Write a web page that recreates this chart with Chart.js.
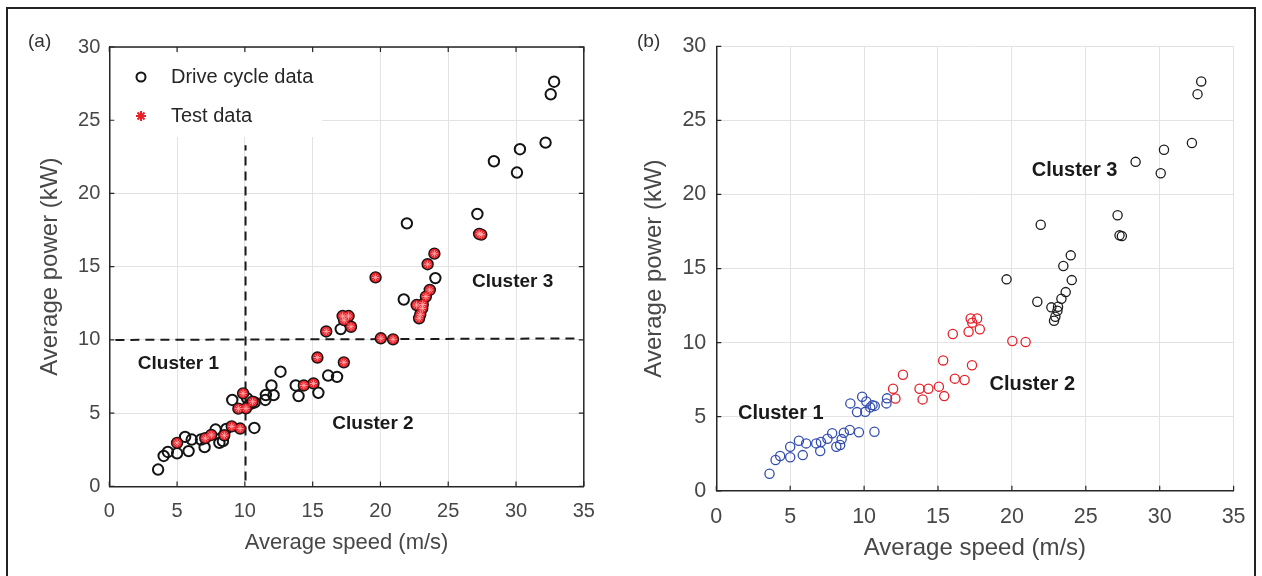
<!DOCTYPE html>
<html>
<head>
<meta charset="utf-8">
<script src="https://cdn.jsdelivr.net/npm/chart.js@4.4.1/dist/chart.umd.min.js"></script>
<style>
  html, body { margin: 0; padding: 0; background: #fff; }
  #wrap { position: relative; width: 1262px; height: 576px; overflow: hidden; }
  #frame { position: absolute; left: 6px; top: 7px; width: 1250px; height: 600px;
           border: 2px solid #222; box-sizing: border-box; }
  canvas { position: absolute; top: 0; }
  #chartA { left: 0; }
  #chartB { left: 620px; }
</style>
</head>
<body>
<div id="wrap">
  <div id="frame"></div>
  <canvas id="chartA" width="610" height="576"></canvas>
  <canvas id="chartB" width="642" height="576"></canvas>
</div>
<script>
// average speed (m/s) / average power (kW) per drive-cycle segment, grouped by cluster
const c1Speed = [3.60, 4.01, 4.32, 5.00, 5.00, 5.59, 5.85, 6.08, 6.76, 7.03, 7.08, 7.52, 7.84, 8.12, 8.38,
                 8.48, 8.63, 9.03, 9.65, 10.70, 9.07, 9.52, 9.87, 10.15, 10.08, 10.42, 10.57, 10.72, 11.55, 11.51];
const c1Power = [1.15, 2.08, 2.35, 2.26, 2.97, 3.38, 2.41, 3.20, 3.20, 2.68, 3.29, 3.51, 3.88, 2.97, 3.09,
                 3.49, 3.92, 4.10, 3.95, 3.99, 5.90, 5.31, 6.35, 6.03, 5.33, 5.63, 5.78, 5.73, 6.24, 5.90];

const c2Speed = [11.96, 12.12, 12.63, 13.75, 13.96, 14.35, 15.06, 15.35, 15.42, 16.00,
                 16.14, 16.80, 17.07, 17.21, 17.32, 17.65, 17.83, 17.30, 20.03, 20.93];
const c2Power = [6.89, 6.23, 7.83, 6.89, 6.17, 6.89, 7.03, 8.80, 6.39, 10.58,
                 7.57, 7.48, 10.74, 11.63, 11.35, 11.63, 10.90, 8.47, 10.11, 10.04];

const c3Speed = [21.95, 19.64, 23.98, 23.48, 24.05, 23.64, 23.35, 21.72, 22.67, 23.12, 23.08, 22.94, 22.85,
                 27.15, 27.28, 27.44, 28.37, 30.29, 30.07, 32.18, 32.56, 32.81];
const c3Power = [17.96, 14.27, 15.89, 15.17, 14.22, 13.41, 12.96, 12.76, 12.38, 12.42, 12.15, 11.75, 11.48,
                 18.60, 17.24, 17.19, 22.20, 23.02, 21.43, 23.47, 26.77, 27.63];

// segments held out as test data
const testSpeed = [5.00, 7.08, 7.52, 8.48, 9.03, 9.65, 9.87, 9.52, 10.08, 10.57, 14.35, 15.06, 15.35, 17.30,
                   16.00, 17.21, 17.65, 17.32, 17.83, 20.03, 20.93, 19.64, 23.48, 23.98, 23.64, 23.35, 23.12,
                   22.67, 23.08, 22.94, 22.85, 27.28, 27.44];
const testPower = [2.97, 3.29, 3.51, 3.49, 4.10, 3.95, 6.35, 5.31, 5.33, 5.78, 6.89, 7.03, 8.80, 8.47,
                   10.58, 11.63, 11.63, 11.35, 10.90, 10.11, 10.04, 14.27, 15.17, 15.89, 13.41, 12.96, 12.42,
                   12.38, 12.15, 11.75, 11.48, 17.24, 17.19];

// speed / power split lines of panel (a)
const splitVSpeed = [10.05, 10.05];
const splitVPower = [0.4, 23.3];
const splitHSpeed = [0.45, 34.6];
const splitHPower = [10.0, 10.1];

const speedTicks = [0, 5, 10, 15, 20, 25, 30, 35];
const powerTicks = [0, 5, 10, 15, 20, 25, 30];

const FONT = '"Liberation Sans", Arial, Helvetica, sans-serif';
const INK = '#262626';
const LABEL = '#474747';
const GRID = '#e3e3e3';
const RED = 'rgb(232,32,40)';
const BLUE = 'rgb(52,78,176)';

function pts(xs, ys) { return xs.map((x, i) => ({ x: x, y: ys[i] })); }

const allSpeed = c1Speed.concat(c2Speed, c3Speed);
const allPower = c1Power.concat(c2Power, c3Power);

function axes(o) {
  return {
    x: {
      type: 'linear', min: 0, max: 35,
      afterBuildTicks: s => { s.ticks = speedTicks.map(v => ({ value: v })); },
      ticks: { color: LABEL, font: { family: FONT, size: o.tick }, padding: o.xPad, maxRotation: 0 },
      grid: { color: GRID, lineWidth: 1, drawTicks: false },
      border: { color: INK, width: 1.5 },
      title: { display: true, text: 'Average speed (m/s)', color: LABEL,
               font: { family: FONT, size: o.xTitle }, padding: { top: 0, bottom: o.xTitlePad } },
      afterFit: s => { s.height = o.xHeight; }
    },
    y: {
      type: 'linear', min: 0, max: 30,
      afterBuildTicks: s => { s.ticks = powerTicks.map(v => ({ value: v })); },
      ticks: { color: LABEL, font: { family: FONT, size: o.tick }, padding: o.yPad },
      grid: { color: GRID, lineWidth: 1, drawTicks: false },
      border: { color: INK, width: 1.5 },
      title: { display: true, text: 'Average power (kW)', color: LABEL,
               font: { family: FONT, size: o.yTitle }, padding: { top: o.yTitlePad, bottom: 0 } },
      afterFit: s => { s.width = o.yWidth; }
    }
  };
}

// inward ticks, optional box, cluster captions, panel letter and legend
const decor = {
  id: 'decor',
  beforeDatasetsDraw(chart, args, opts) {
    const ctx = chart.ctx;
    if (opts.legend) {
      const L = opts.legend;
      ctx.save();
      ctx.fillStyle = '#fff';
      ctx.fillRect(L.x, L.y, L.w, L.h);
      ctx.restore();
    }
  },
  afterDraw(chart, args, opts) {
    const ctx = chart.ctx;
    const a = chart.chartArea;
    const xs = chart.scales.x, ys = chart.scales.y;
    ctx.save();
    ctx.strokeStyle = INK;
    ctx.lineWidth = 1.5;
    if (opts.box) {
      ctx.beginPath();
      ctx.moveTo(a.left, a.top); ctx.lineTo(a.right, a.top); ctx.lineTo(a.right, a.bottom);
      ctx.stroke();
    }
    ctx.lineWidth = 1.2;
    ctx.beginPath();
    speedTicks.forEach(v => {
      const px = xs.getPixelForValue(v);
      ctx.moveTo(px, a.bottom); ctx.lineTo(px, a.bottom - 5);
      if (opts.box) { ctx.moveTo(px, a.top); ctx.lineTo(px, a.top + 5); }
    });
    powerTicks.forEach(v => {
      const py = ys.getPixelForValue(v);
      ctx.moveTo(a.left, py); ctx.lineTo(a.left + 5, py);
      if (opts.box) { ctx.moveTo(a.right, py); ctx.lineTo(a.right - 5, py); }
    });
    ctx.stroke();

    ctx.fillStyle = '#1a1a1a';
    ctx.font = 'bold ' + opts.capSize + 'px ' + FONT;
    ctx.textBaseline = 'middle';
    ctx.textAlign = 'left';
    opts.captions.forEach(c => {
      ctx.fillText(c.text, xs.getPixelForValue(c.x), ys.getPixelForValue(c.y));
    });

    ctx.fillStyle = '#333';
    ctx.font = '19px ' + FONT;
    ctx.fillText(opts.panel.text, opts.panel.x, opts.panel.y);

    if (opts.legend) {
      const L = opts.legend;
      ctx.font = '20px ' + FONT;
      L.items.forEach((it, i) => {
        const y = L.y + L.first + i * L.gap;
        // drawPoint uses the context's current stroke and fill
        ctx.strokeStyle = it.color;
        ctx.fillStyle = 'rgba(0,0,0,0)';
        ctx.lineWidth = it.bw;
        Chart.helpers.drawPoint(ctx, {
          pointStyle: it.style, radius: it.r, borderWidth: it.bw, rotation: 0
        }, L.x + L.mark, y);
        ctx.fillStyle = INK;
        ctx.fillText(it.text, L.x + L.text, y);
      });
    }
    ctx.restore();
  }
};

new Chart(document.getElementById('chartA'), {
  type: 'scatter',
  data: {
    datasets: [
      { label: 'Test data', data: pts(testSpeed, testPower), pointStyle: 'star', pointRadius: 3.6,
        borderColor: 'rgba(255,175,175,0.85)', borderWidth: 1, backgroundColor: RED, order: 0 },
      { label: 'Test data fill', data: pts(testSpeed, testPower), pointStyle: 'circle', pointRadius: 4.8,
        borderWidth: 0, backgroundColor: RED, order: 1 },
      { label: 'Drive cycle data', data: pts(allSpeed, allPower), pointStyle: 'circle', pointRadius: 5.2,
        borderWidth: 2, borderColor: '#141414', backgroundColor: 'rgba(0,0,0,0)', order: 2 },
      { label: 'split v', data: pts(splitVSpeed, splitVPower), showLine: true, pointRadius: 0,
        borderColor: '#1a1a1a', borderWidth: 2, borderDash: [9, 6], order: 3 },
      { label: 'split h', data: pts(splitHSpeed, splitHPower), showLine: true, pointRadius: 0,
        borderColor: '#1a1a1a', borderWidth: 2, borderDash: [9, 6], order: 3 }
    ]
  },
  options: {
    responsive: false, animation: false, devicePixelRatio: 1,
    layout: { padding: { top: 47, right: 26.2, left: 0, bottom: 0 } },
    plugins: {
      legend: { display: false }, tooltip: { enabled: false },
      decor: {
        box: true, capSize: 19,
        captions: [
          { text: 'Cluster 1', x: 2.1, y: 8.36 },
          { text: 'Cluster 2', x: 16.45, y: 4.29 },
          { text: 'Cluster 3', x: 26.75, y: 13.98 }
        ],
        panel: { text: '(a)', x: 28, y: 42 },
        legend: {
          x: 111, y: 53, w: 211, h: 84, first: 24, gap: 39, mark: 30, text: 60,
          items: [
            { text: 'Drive cycle data', style: 'circle', r: 4.5, bw: 2, color: '#141414' },
            { text: 'Test data', style: 'star', r: 5, bw: 2, color: RED }
          ]
        }
      }
    },
    scales: axes({ tick: 20, xPad: 13, xTitle: 22, xTitlePad: 20, xHeight: 89.6,
                   yPad: 9, yTitle: 24, yTitlePad: 35.6, yWidth: 109.3 })
  },
  plugins: [decor]
});

new Chart(document.getElementById('chartB'), {
  type: 'scatter',
  data: {
    datasets: [
      { label: 'Cluster 1', data: pts(c1Speed, c1Power), pointStyle: 'circle', pointRadius: 4.6,
        borderWidth: 1.3, borderColor: BLUE, backgroundColor: 'rgba(0,0,0,0)' },
      { label: 'Cluster 2', data: pts(c2Speed, c2Power), pointStyle: 'circle', pointRadius: 4.6,
        borderWidth: 1.3, borderColor: RED, backgroundColor: 'rgba(0,0,0,0)' },
      { label: 'Cluster 3', data: pts(c3Speed, c3Power), pointStyle: 'circle', pointRadius: 4.6,
        borderWidth: 1.3, borderColor: '#1c1c1c', backgroundColor: 'rgba(0,0,0,0)' }
    ]
  },
  options: {
    responsive: false, animation: false, devicePixelRatio: 1,
    layout: { padding: { top: 46.3, right: 28.4, left: 0, bottom: 0 } },
    plugins: {
      legend: { display: false }, tooltip: { enabled: false },
      decor: {
        box: false, capSize: 20,
        captions: [
          { text: 'Cluster 1', x: 1.47, y: 5.21 },
          { text: 'Cluster 2', x: 18.48, y: 7.19 },
          { text: 'Cluster 3', x: 21.35, y: 21.63 }
        ],
        panel: { text: '(b)', x: 17, y: 42 }
      }
    },
    scales: axes({ tick: 21.5, xPad: 13, xTitle: 24, xTitlePad: 13.6, xHeight: 85.2,
                   yPad: 10, yTitle: 24, yTitlePad: 19.6, yWidth: 96.3 })
  },
  plugins: [decor]
});
</script>
</body>
</html>
